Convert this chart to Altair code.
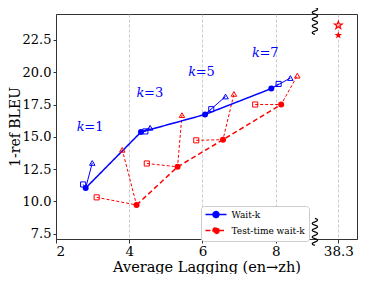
import altair as alt
import pandas as pd

# ---- data ----
k_values = ["1", "3", "5", "7"]
waitk_x = [2.81, 4.32, 6.07, 7.88]
waitk_y = [11.04, 15.37, 16.73, 18.73]
waitk_sq_x = [2.74, 4.44, 6.24, 8.08]
waitk_sq_y = [11.32, 15.42, 17.14, 19.09]
waitk_tri_x = [2.99, 4.57, 6.63, 8.40]
waitk_tri_y = [12.98, 15.70, 18.12, 19.55]

test_x = [4.20, 5.32, 6.56, 8.15]
test_y = [9.73, 12.68, 14.78, 17.50]
test_sq_x = [3.11, 4.48, 5.83, 7.44]
test_sq_y = [10.32, 12.94, 14.73, 17.50]
test_tri_x = [3.81, 5.44, 6.86, 8.59]
test_tri_y = [14.00, 16.68, 18.32, 19.73]

full_x = [38.3, 38.3]
full_y = [23.63, 22.86]
full_kind = ["hollow", "filled"]

label_x = [2.57, 4.20, 5.61, 7.35]
label_y = [15.75, 18.37, 20.04, 21.48]

series_names = ["Wait-k", "Test-time wait-k"]
x_ticks = [2, 4, 6, 8, 38.3]
y_ticks = [7.5, 10, 12.5, 15, 17.5, 20, 22.5]

# broken axis: values beyond the break are drawn at a compressed position
BREAK_POS = 9.71
BREAK_MARK = 9.07
X_DOMAIN = [2, 10.22]
Y_DOMAIN = [7.1, 24.5]
BREAK_Y = [23.96, 7.65]   # where the break symbols sit on the top / bottom frame


def xmap(v):
    return BREAK_POS if v > 30 else v


BLUE = "#0000ff"
RED = "#ff0000"
FONT = "DejaVu Serif"

main_rows = []
for i in range(4):
    main_rows.append({"series": "Wait-k", "x": waitk_x[i], "y": waitk_y[i], "o": i})
    main_rows.append({"series": "Test-time wait-k", "x": test_x[i], "y": test_y[i], "o": i})
main = pd.DataFrame(main_rows)

grp_rows = []
for i, k in enumerate(k_values):
    for j, (xs, ys) in enumerate([(waitk_sq_x, waitk_sq_y), (waitk_x, waitk_y), (waitk_tri_x, waitk_tri_y)]):
        grp_rows.append({"g": "w" + k, "series": "Wait-k", "x": xs[i], "y": ys[i], "o": j})
    for j, (xs, ys) in enumerate([(test_sq_x, test_sq_y), (test_x, test_y), (test_tri_x, test_tri_y)]):
        grp_rows.append({"g": "t" + k, "series": "Test-time wait-k", "x": xs[i], "y": ys[i], "o": j})
grp = pd.DataFrame(grp_rows)

sq = pd.DataFrame({"x": waitk_sq_x + test_sq_x, "y": waitk_sq_y + test_sq_y,
                   "series": ["Wait-k"] * 4 + ["Test-time wait-k"] * 4})
tri = pd.DataFrame({"x": waitk_tri_x + test_tri_x, "y": waitk_tri_y + test_tri_y,
                    "series": ["Wait-k"] * 4 + ["Test-time wait-k"] * 4})
stars = pd.DataFrame({"x": [xmap(v) for v in full_x], "y": full_y, "kind": full_kind})
labels = pd.DataFrame({"x": label_x, "y": label_y, "k": k_values,
                       "rest": ["=" + k for k in k_values]})
brk = pd.DataFrame({"x": [BREAK_MARK, BREAK_MARK], "y": BREAK_Y})

xscale = alt.Scale(domain=X_DOMAIN, nice=False, zero=False)
yscale = alt.Scale(domain=Y_DOMAIN, nice=False, zero=False)
cscale = alt.Scale(domain=series_names, range=[BLUE, RED])

xaxis = alt.Axis(
    title="Average Lagging (en→zh)",
    values=[xmap(v) for v in x_ticks],
    labelExpr="datum.value > 9 ? '38.3' : format(datum.value, 'd')",
    labelOverlap=False,
    grid=True, gridDash=[3, 2], gridColor="#bbbbbb", gridWidth=0.8,
    labelFontSize=13.5, titleFontSize=14.5, labelFont=FONT, titleFont=FONT,
    labelColor="black", titleColor="black", titleFontWeight="normal",
    tickColor="#333", domainColor="#333", tickSize=4, labelPadding=1, titlePadding=3,
)
yaxis = alt.Axis(
    title="1-ref BLEU", values=y_ticks, format=".1f", labelOverlap=False,
    grid=False, labelFontSize=13, titleFontSize=14, labelFont=FONT, titleFont=FONT,
    labelColor="black", titleColor="black", titleFontWeight="normal",
    titleX=-41, titleBaseline="middle",
    tickColor="#333", domainColor="#333", tickSize=3, labelPadding=2,
)

X = alt.X("x:Q", scale=xscale, axis=xaxis)
Y = alt.Y("y:Q", scale=yscale, axis=yaxis)

legend = alt.Legend(
    title=None, orient="none", legendX=145, legendY=192,
    labelFont=FONT, labelFontSize=9, labelColor="black",
    symbolType="M-3,0H-0.85M0.85,0H3M0.85,0A0.85,0.85,0,1,1,-0.85,0A0.85,0.85,0,1,1,0.85,0Z",
    symbolSize=49, symbolStrokeWidth=1.5, symbolOffset=6.5, labelOffset=11, rowPadding=3,
    fillColor="white", strokeColor="#cccccc", padding=4, cornerRadius=3,
)

grp_w = alt.Chart(grp[grp.series == "Wait-k"]).mark_line(color=BLUE, strokeWidth=1).encode(
    x=X, y=Y, detail="g:N", order="o:Q")
grp_t = alt.Chart(grp[grp.series == "Test-time wait-k"]).mark_line(
    color=RED, strokeWidth=1, strokeDash=[3, 2]).encode(x=X, y=Y, detail="g:N", order="o:Q")

main_pts = alt.Chart(main).mark_point(filled=True, size=36, opacity=1, shape="circle").encode(
    x=X, y=Y, color=alt.Color("series:N", scale=cscale, legend=legend))
main_lines = alt.Chart(main).mark_line(strokeWidth=1.5).encode(
    x=X, y=Y, order="o:Q",
    color=alt.Color("series:N", scale=cscale, legend=legend),
    strokeDash=alt.StrokeDash("series:N", scale=alt.Scale(domain=series_names, range=[[1, 0], [5, 3]]),
                              legend=legend))

sq_pts = alt.Chart(sq).mark_point(shape="square", filled=False, size=26, strokeWidth=1, opacity=1).encode(
    x=X, y=Y, color=alt.Color("series:N", scale=cscale, legend=None))
tri_pts = alt.Chart(tri).mark_point(shape="triangle-up", filled=False, size=30, strokeWidth=1, opacity=1).encode(
    x=X, y=Y, color=alt.Color("series:N", scale=cscale, legend=None))

STAR = "M0,-1L0.235,-0.324L0.951,-0.309L0.38,0.124L0.588,0.809L0,0.4L-0.588,0.809L-0.38,0.124L-0.951,-0.309L-0.235,-0.324Z"
star_h = alt.Chart(stars[stars.kind == "hollow"]).mark_point(
    shape=STAR, filled=False, color=RED, size=64, strokeWidth=1.2, opacity=1).encode(x=X, y=Y)
star_f = alt.Chart(stars[stars.kind == "filled"]).mark_point(
    shape=STAR, filled=True, color=RED, size=64, opacity=1).encode(x=X, y=Y)

k_txt = alt.Chart(labels).transform_calculate(kk="'k'").mark_text(
    color=BLUE, font=FONT, fontSize=13, fontStyle="italic", align="left", baseline="middle").encode(
    x=X, y=Y, text="kk:N")
k_txt2 = alt.Chart(labels).mark_text(color=BLUE, font=FONT, fontSize=13, align="left",
                                     baseline="middle", dx=7.5).encode(x=X, y=Y, text="rest:N")

wave = ("M0,-1Q0.4,-0.875,0,-0.75Q-0.4,-0.625,0,-0.5Q0.4,-0.375,0,-0.25Q-0.4,-0.125,0,0"
        "Q0.4,0.125,0,0.25Q-0.4,0.375,0,0.5Q0.4,0.625,0,0.75Q-0.4,0.875,0,1")
brk_marks = alt.Chart(brk).mark_point(shape=wave, filled=False, color="black", size=729,
                                      strokeWidth=1.3, opacity=1).encode(x=X, y=Y)

chart = alt.layer(
    grp_w, grp_t, main_lines, main_pts, sq_pts, tri_pts, star_h, star_f,
    k_txt, k_txt2, brk_marks,
).resolve_scale(color="shared").properties(
    width=301, height=225,
    autosize=alt.AutoSizeParams(type="none"),
    padding={"left": 48, "top": 6, "right": 11, "bottom": 35},
).configure_view(stroke="#333", strokeWidth=1).configure_axis(labelOverlap=False)

chart.save("out.html", embed_options={"renderer": "svg", "actions": False})
